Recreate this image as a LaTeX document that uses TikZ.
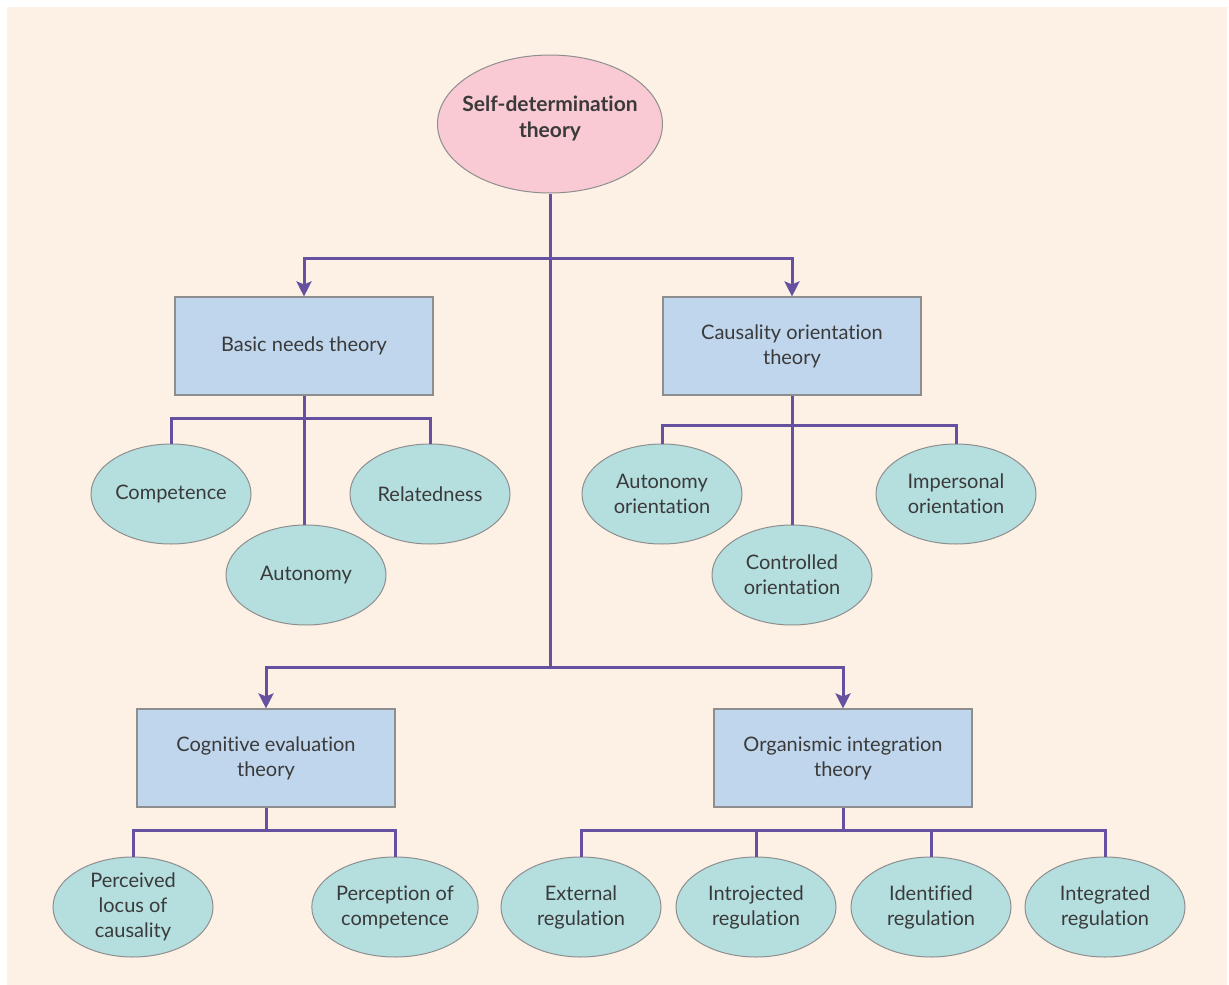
\documentclass[tikz,border=0pt]{standalone}
\usepackage{fontspec}
\setmainfont{Lato}[Ligatures=NoCommon]
\usetikzlibrary{shapes.geometric,arrows.meta}
\definecolor{bgcream}{HTML}{FDF1E6}
\definecolor{linkc}{HTML}{6650A0}
\definecolor{boxfill}{HTML}{C0D6ED}
\definecolor{ovalfill}{HTML}{B5DFDF}
\definecolor{rootfill}{HTML}{F9CAD3}
\definecolor{edgec}{HTML}{8E8E8E}
\definecolor{txt}{HTML}{3A3A3A}
\begin{document}
\begin{tikzpicture}[x=1pt,y=-1pt,
  basefont/.style={text=txt, align=center, font=\fontsize{20}{25}\selectfont},
  theorybox/.style={basefont, rectangle, draw=edgec, line width=1.1pt, fill=boxfill,
    minimum width=258pt, minimum height=98pt, inner sep=0pt},
  oval/.style={basefont, ellipse, draw=edgec, line width=1pt, fill=ovalfill,
    minimum width=160pt, minimum height=100pt, inner sep=0pt},
  rootoval/.style={oval, fill=rootfill, minimum width=225pt, minimum height=138pt},
  conn/.style={draw=linkc, line width=3pt},
  arr/.style={conn, -{Stealth[length=15pt, width=15pt, inset=3pt]}},
]
\useasboundingbox (0,0) rectangle (1229,985);
\fill[white] (0,0) rectangle (1229,985);
\fill[bgcream] (7,7) rectangle (1227,985);

% root
\node[rootoval] (root) at (550,124) {};
\node[basefont, font=\fontsize{21}{26}\selectfont\bfseries] (roottext) at (550,118)
  {Self-determination\\theory};

% four mini-theories
\node[theorybox] (bnt) at (304,346) {Basic needs theory};
\node[theorybox] (cot) at (792,346) {Causality orientation\\theory};
\node[theorybox] (cet) at (266,758) {Cognitive evaluation\\theory};
\node[theorybox] (oit) at (843,758) {Organismic integration\\theory};

% basic needs
\node[oval] (comp) at (171,494) {Competence};
\node[oval] (rel)  at (430,494) {Relatedness};
\node[oval] (aut)  at (306,575) {Autonomy};

% causality orientations
\node[oval] (autor) at (662,494) {Autonomy\\orientation};
\node[oval] (impor) at (956,494) {Impersonal\\orientation};
\node[oval] (conor) at (792,575) {Controlled\\orientation};

% cognitive evaluation
\node[oval] (plc) at (133,907) {Perceived\\locus of\\causality};
\node[oval] (poc) at (395,907) {Perception of\\competence};

% organismic integration
\node[oval] (ext) at (581,907)  {External\\regulation};
\node[oval] (intro) at (756,907) {Introjected\\regulation};
\node[oval] (iden) at (931,907) {Identified\\regulation};
\node[oval] (integ) at (1105,907) {Integrated\\regulation};

% junctions
\coordinate (j1) at (550,258);
\coordinate (j2) at (550,667);
\coordinate (b1) at (304,418);
\coordinate (c1) at (792,425);
\coordinate (e1) at (266,830);
\coordinate (o1) at (843,830);

% trunk and arrows
\draw[conn] (root.south) -- (j2);
\draw[arr] (j1) -| (bnt.north);
\draw[arr] (j1) -| (cot.north);
\draw[arr] (j2) -| (cet.north);
\draw[arr] (j2) -| (oit.north);

% branches
\draw[conn] (comp.north) |- (b1) -| (rel.north);
\draw[conn] (bnt.south) -- (bnt.south |- aut.north);
\draw[conn] (autor.north) |- (c1) -| (impor.north);
\draw[conn] (cot.south) -- (conor.north);
\draw[conn] (cet.south) -- (e1);
\draw[conn] (plc.north) |- (e1) -| (poc.north);
\draw[conn] (oit.south) -- (o1);
\draw[conn] (ext.north) |- (o1) -| (integ.north);
\draw[conn] (intro.north) -- (intro.north |- o1);
\draw[conn] (iden.north) -- (iden.north |- o1);
\end{tikzpicture}
\end{document}
